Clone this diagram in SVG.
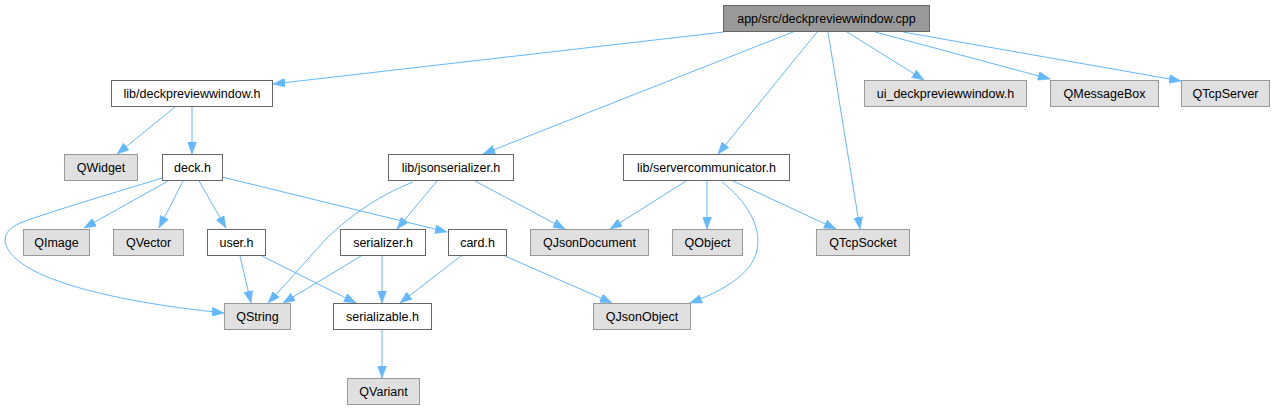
<svg xmlns="http://www.w3.org/2000/svg" width="1275" height="411" viewBox="0 0 1275 411">
<style>
.n rect{fill:#ffffff;stroke:#666666;stroke-width:1}
.x rect{fill:#e0e0e0;stroke:#999999;stroke-width:1}
.r rect{fill:#999999;stroke:#666666;stroke-width:1}
text{font-family:"Liberation Sans",Arial,sans-serif;font-size:12.5px;fill:#000000;text-anchor:middle}
#edges path{fill:none;stroke:#63b8ff;stroke-width:1;marker-end:url(#ah)}
</style>
<defs>
<marker id="ah" markerUnits="userSpaceOnUse" markerWidth="12" markerHeight="9" viewBox="0 0 12 9" refX="12" refY="4.5" orient="auto">
<path d="M0,0 L12,4.5 L0,9 z" fill="#63b8ff" stroke="#63b8ff" stroke-width="0.5"/>
</marker>
</defs>
<rect width="1275" height="411" fill="#ffffff"/>
<g id="edges">
<path d="M724,32 L273,84"/>
<path d="M793,32 L483,154"/>
<path d="M817,32 L718,154"/>
<path d="M828,32 L860,229"/>
<path d="M847,32 L924,80"/>
<path d="M875,32 L1050,79"/>
<path d="M903,32 L1181,81"/>
<path d="M175,107 L117,154"/>
<path d="M192,107 L192,154"/>
<path d="M168,181 L84,228"/>
<path d="M183,181 L159,228"/>
<path d="M199,181 L226,228"/>
<path d="M162,178 C120,191 55,210 20,223 C-10,236 8,262 50,278 C95,296 165,307 224,313"/>
<path d="M222,177 L447,232"/>
<path d="M240,256 L251,303"/>
<path d="M262,256 L356,303"/>
<path d="M413,182 C375,197 345,220 325,240 C305,262 285,285 268,303"/>
<path d="M437,181 L397,229"/>
<path d="M475,181 L565,229"/>
<path d="M686,181 L610,229"/>
<path d="M707,181 L707,229"/>
<path d="M722,182 C745,200 762,225 757,250 C752,275 720,292 690,303"/>
<path d="M733,181 L836,229"/>
<path d="M361,256 L283,303"/>
<path d="M382,256 L382,303"/>
<path d="M461,256 L400,303"/>
<path d="M505,256 L612,303"/>
<path d="M382,330 L382,378"/>
</g>
<g id="root" class="r"><rect x="723.5" y="5.5" width="206" height="26"/><text x="826.5" y="23">app/src/deckpreviewwindow.cpp</text></g>
<g id="deckpreviewwindow_h" class="n"><rect x="111.5" y="80.5" width="161" height="26"/><text x="192" y="98">lib/deckpreviewwindow.h</text></g>
<g id="ui_deckpreviewwindow_h" class="x"><rect x="864.5" y="80.5" width="162" height="26"/><text x="945.5" y="98">ui_deckpreviewwindow.h</text></g>
<g id="QMessageBox" class="x"><rect x="1050.5" y="80.5" width="108" height="26"/><text x="1104.5" y="98">QMessageBox</text></g>
<g id="QTcpServer" class="x"><rect x="1181.5" y="80.5" width="88" height="26"/><text x="1225.5" y="98">QTcpServer</text></g>
<g id="QWidget" class="x"><rect x="64.5" y="154.5" width="73" height="26"/><text x="101" y="172">QWidget</text></g>
<g id="deck_h" class="n"><rect x="162.5" y="154.5" width="60" height="26"/><text x="192.5" y="172">deck.h</text></g>
<g id="jsonserializer_h" class="n"><rect x="388.5" y="154.5" width="125" height="26"/><text x="451" y="172">lib/jsonserializer.h</text></g>
<g id="servercommunicator_h" class="n"><rect x="623.5" y="154.5" width="166" height="26"/><text x="706.5" y="172">lib/servercommunicator.h</text></g>
<g id="QImage" class="x"><rect x="23.5" y="229.5" width="66" height="26"/><text x="56.5" y="247">QImage</text></g>
<g id="QVector" class="x"><rect x="113.5" y="229.5" width="70" height="26"/><text x="148.5" y="247">QVector</text></g>
<g id="user_h" class="n"><rect x="207.5" y="229.5" width="58" height="26"/><text x="236.5" y="247">user.h</text></g>
<g id="serializer_h" class="n"><rect x="340.5" y="229.5" width="85" height="26"/><text x="383" y="247">serializer.h</text></g>
<g id="card_h" class="n"><rect x="448.5" y="229.5" width="58" height="26"/><text x="477.5" y="247">card.h</text></g>
<g id="QJsonDocument" class="x"><rect x="530.5" y="229.5" width="118" height="26"/><text x="589.5" y="247">QJsonDocument</text></g>
<g id="QObject" class="x"><rect x="672.5" y="229.5" width="70" height="26"/><text x="707.5" y="247">QObject</text></g>
<g id="QTcpSocket" class="x"><rect x="816.5" y="229.5" width="93" height="26"/><text x="863" y="247">QTcpSocket</text></g>
<g id="QString" class="x"><rect x="224.5" y="303.5" width="66" height="26"/><text x="257.5" y="321">QString</text></g>
<g id="serializable_h" class="n"><rect x="333.5" y="303.5" width="98" height="26"/><text x="382.5" y="321">serializable.h</text></g>
<g id="QJsonObject" class="x"><rect x="593.5" y="303.5" width="97" height="26"/><text x="642" y="321">QJsonObject</text></g>
<g id="QVariant" class="x"><rect x="347.5" y="378.5" width="72" height="26"/><text x="383.5" y="396">QVariant</text></g>
</svg>
